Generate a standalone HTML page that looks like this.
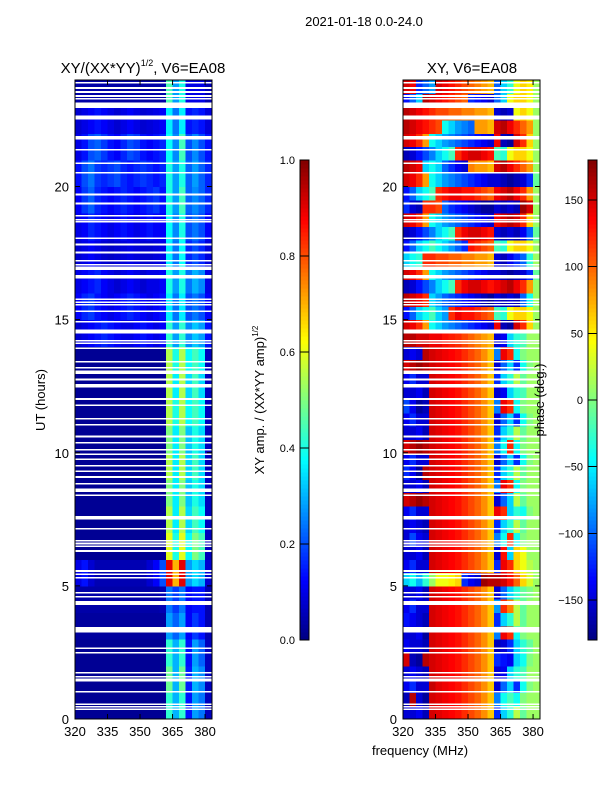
<!DOCTYPE html>
<html><head><meta charset="utf-8">
<style>
html,body{margin:0;padding:0;background:#fff;}
svg{display:block;font-family:"Liberation Sans","DejaVu Sans",sans-serif;}
</style></head>
<body>
<svg id="fig" width="600" height="800" xmlns="http://www.w3.org/2000/svg">
<text x="364" y="26" font-size="13" text-anchor="middle">2021-01-18 0.0-24.0</text>
<text x="143" y="73" font-size="15" text-anchor="middle">XY/(XX*YY)<tspan font-size="9" dy="-7">1/2</tspan><tspan dy="7">, V6=EA08</tspan></text>
<text x="472" y="73" font-size="15" text-anchor="middle">XY, V6=EA08</text>
<text transform="translate(45,400) rotate(-90)" font-size="13" text-anchor="middle">UT (hours)</text>
<text x="420" y="755" font-size="13" text-anchor="middle">frequency (MHz)</text>
<text transform="translate(264,400) rotate(-90)" font-size="13" text-anchor="middle">XY amp. / (XX*YY amp)<tspan font-size="8" dy="-6">1/2</tspan></text>
<g id="layer"></g>
<text transform="translate(544,400) rotate(-90)" font-size="13" text-anchor="middle">phase (deg.)</text>
</svg>
<script>
// ---- data ----
const freqEdges = [320,323,326,329,332,335,338,341,344,347,350,353,356,359,362,365,368,371,374,377,380,383.2];
const ampHours = [0,1,2,3,4,5,6,7,8,9,10,11,12,13,14,15,16,17,18,19,20,21,22,23];
const ampRows = [
[2,2,2,2,2,2,2,2,2,2,2,2,2,2,42,30,42,14,28,24,6],
[2,2,2,2,2,2,2,2,2,2,2,2,2,2,48,30,48,15,30,26,6],
[2,2,2,2,2,2,2,2,2,2,2,2,2,2,42,30,42,14,28,22,6],
[3,3,3,3,3,3,3,3,3,3,3,3,3,3,28,22,28,12,18,14,5],
[4,4,4,4,4,4,4,4,4,4,4,4,4,5,24,18,24,12,14,14,5],
[10,14,8,5,5,5,5,5,5,5,5,8,12,20,90,70,90,28,34,30,8],
[2,2,2,2,2,2,2,2,2,2,2,2,2,2,60,40,60,38,50,44,6],
[2,2,2,2,2,2,2,2,2,2,2,2,2,2,55,36,55,34,44,38,6],
[2,2,2,2,2,2,2,2,2,2,2,2,2,2,50,36,50,32,40,34,6],
[2,2,2,2,2,2,2,2,2,2,2,2,2,2,55,36,55,34,44,34,6],
[2,2,2,2,2,2,2,2,2,2,2,2,2,2,50,36,50,32,40,34,6],
[2,2,2,2,2,2,2,2,2,2,2,2,2,2,55,40,55,38,44,38,6],
[2,2,2,2,2,2,2,2,2,2,2,2,2,2,55,36,55,34,44,34,6],
[2,2,2,2,2,2,2,2,2,2,2,2,2,2,55,40,55,38,44,38,6],
[8,10,12,14,16,14,12,10,10,12,14,12,10,12,42,28,42,26,32,28,14],
[12,16,18,14,12,10,12,14,16,14,12,10,12,14,36,24,36,20,24,20,12],
[10,12,14,16,12,10,8,10,12,10,8,10,10,12,40,28,40,24,30,26,10],
[8,10,12,10,8,7,8,9,10,9,8,8,9,10,36,24,38,16,20,16,9],
[10,12,16,14,12,10,12,14,12,10,12,14,12,12,38,26,40,20,24,20,12],
[12,18,22,16,14,12,14,16,14,12,14,16,18,14,40,28,44,22,26,22,16],
[14,20,24,18,16,18,20,16,14,16,18,16,14,16,40,28,40,22,28,22,16],
[10,14,20,22,18,14,12,16,20,18,14,12,14,16,38,26,44,20,26,20,14],
[8,10,12,14,12,10,8,10,12,10,8,9,10,12,36,24,36,14,16,14,9],
[4,4,4,4,4,4,4,4,4,4,4,4,4,4,45,28,40,10,10,10,5]
];
const phaseHours = [0,0.5,1,1.5,2,2.5,3,3.5,4,4.5,5,5.5,6,6.5,7,7.5,8,8.5,9,9.5,10,10.5,11,11.5,12,12.5,13,13.5,14,14.5,15,15.5,16,16.5,17,17.5,18,18.5,19,19.5,20,20.5,21,21.5,22,22.5,23,23.5];
const phaseRows = [
[-150,-150,-140,-160,150,145,140,135,130,120,110,100,85,65,-120,-60,-30,20,-10,10,10],
[-160,160,-150,-170,150,145,140,135,130,120,110,100,85,65,-90,-40,-20,-40,0,10,10],
[-140,-120,-150,-150,155,145,140,135,130,120,110,100,85,65,-150,-100,-60,-120,-40,0,10],
[-150,-140,-150,-160,150,145,140,135,130,120,110,100,85,65,-150,-140,-60,-30,-20,10,10],
[150,-160,-170,160,150,145,140,135,130,120,110,100,85,65,-120,-130,-140,-60,-40,0,10],
[-140,-150,-150,-160,150,145,140,135,130,120,110,100,85,65,-160,-150,-120,-60,-30,-10,10],
[-150,-150,-140,-170,150,145,140,135,130,120,110,100,85,65,-90,140,120,-40,0,10,10],
[-130,-140,-150,-160,150,145,140,135,130,120,110,100,85,65,-120,-60,-30,20,-10,10,10],
[-140,-120,-150,-150,150,145,140,135,130,120,110,100,85,65,-80,120,90,20,-10,10,10],
[-150,-150,-140,-160,150,145,140,135,130,120,110,100,85,65,-150,-100,-60,-30,-10,0,10],
[-60,-40,-70,-30,10,40,40,50,60,-120,-140,-150,170,160,160,150,130,100,60,30,10],
[-140,-120,-150,-150,150,145,140,135,130,120,110,100,85,65,-120,140,120,60,40,20,10],
[-150,-150,-140,-160,150,145,140,135,130,120,110,100,85,65,-150,130,-60,60,40,10,10],
[-150,-110,-140,-150,150,145,140,135,130,120,110,100,85,65,-90,-40,120,-40,0,10,10],
[-150,-140,-150,-160,150,145,140,135,130,120,110,100,85,65,-120,-60,-30,20,-10,10,10],
[-140,-120,-150,-150,150,145,140,135,130,120,110,100,85,65,140,120,-60,-30,-40,0,10],
[150,160,170,160,150,145,140,135,130,120,110,100,85,65,-150,-100,-60,20,-10,10,10],
[-150,-150,-140,-160,150,145,140,135,130,120,110,100,85,65,-90,140,120,-40,0,10,10],
[-120,-140,-170,160,150,145,140,135,130,120,110,100,85,65,-120,-60,-30,20,-10,10,10],
[-140,-120,-150,-150,150,145,140,135,130,120,110,100,85,65,-150,-100,-60,-120,-40,0,10],
[150,160,170,160,150,145,140,135,130,120,110,100,85,65,-90,-40,120,-40,0,10,10],
[-150,-150,-140,-160,150,145,140,135,130,120,110,100,85,65,-120,-60,-30,20,-10,10,10],
[-140,-120,-150,-150,150,145,140,135,130,120,110,100,85,65,-150,-100,-60,-120,-40,0,10],
[-110,-140,-170,-160,150,145,140,135,130,120,110,100,85,65,-90,140,120,-40,0,10,10],
[-150,-150,-140,-160,150,145,140,135,130,120,110,100,85,65,-150,-140,-60,-30,-20,10,10],
[-140,-120,-150,-150,150,145,140,135,130,120,110,100,85,65,-120,-60,-30,20,-10,10,10],
[150,160,170,160,150,145,140,135,130,120,110,100,85,65,-150,-100,-60,-120,-40,0,10],
[-150,-140,-150,160,150,145,140,135,130,120,110,100,85,65,-90,140,120,-40,0,10,10],
[160,160,150,150,140,140,130,125,120,110,100,90,80,70,-150,-140,-60,-30,-20,10,10],
[150,140,120,80,-40,-60,-80,-90,-100,-110,-120,-130,-140,-150,140,-160,-170,150,120,60,10],
[-130,-100,-60,-40,-20,-60,-80,120,140,130,130,120,110,100,-20,-30,40,60,60,40,10],
[160,150,140,120,-60,-80,-100,-110,-120,-130,-140,-150,-160,-170,-150,-160,-150,-160,-100,-40,10],
[-160,-150,-130,-110,-90,-60,-40,-20,120,140,150,150,140,130,140,150,160,140,120,80,10],
[150,140,120,80,-40,-60,-80,-90,-100,-110,-120,-130,-140,-150,-150,-160,-170,-160,-150,-120,-10],
[-60,-40,-30,120,120,110,110,100,100,90,90,80,80,70,-150,-160,-140,-120,-100,-30,10],
[-130,-100,-60,-40,-20,-40,-60,-80,-100,-120,130,120,110,100,-20,-30,40,60,60,40,10],
[-160,-150,-130,-110,-90,-60,-40,-20,120,140,150,150,140,130,-150,-160,-150,-160,-140,-100,-10],
[150,140,120,80,-40,-60,-80,-90,-100,-110,-120,-130,-140,-150,140,150,160,150,120,60,10],
[-120,-150,-160,120,120,110,-100,-120,-130,-140,-150,-160,-170,-170,-150,-160,-150,-160,170,150,10],
[-130,-100,-60,-40,-20,120,130,140,140,130,130,120,110,100,140,150,160,140,120,80,10],
[150,140,120,80,-40,-60,-80,-90,-100,-110,-120,-130,-140,-150,-150,-160,-170,-160,-150,-120,-10],
[160,150,140,-60,-40,-60,-100,-120,-140,-150,90,80,80,70,150,160,140,120,100,80,10],
[-160,-150,-130,-110,-90,-60,-40,-20,120,140,150,150,140,130,-20,-30,40,60,60,40,10],
[150,140,120,80,-40,-60,-80,-90,-100,-110,-120,-130,-140,-150,140,-160,-170,150,120,60,10],
[160,150,140,130,120,110,-40,-60,-80,-90,-100,80,80,70,150,160,140,120,100,80,10],
[160,150,140,130,120,110,110,100,100,90,90,80,80,70,-150,-160,-150,40,60,40,10],
[-130,-100,-60,160,150,140,130,120,110,100,-120,-130,-140,-150,-100,-60,40,60,60,40,10],
[150,140,-120,-100,-80,150,140,130,120,110,100,90,80,70,-100,-60,-30,40,60,50,10]
];
const flagHours = [0.36,0.46,0.55,1.02,1.46,1.59,1.74,2.49,2.65,4.36,4.59,4.74,5.31,5.44,5.56,6.31,6.49,6.59,6.69,7.15,7.56,8.40,8.59,8.84,9.09,9.31,9.51,9.75,9.94,10.11,10.37,10.61,11.05,11.27,11.79,12.02,12.49,12.55,12.75,13.02,13.19,13.42,13.92,14.11,14.21,14.55,14.92,15.32,15.56,15.65,15.77,16.61,16.93,17.06,17.21,17.52,17.82,18.05,18.67,18.75,18.9,19.36,19.7,20.52,20.87,21.38,21.79,21.86,23.3,23.4,23.55,23.7,23.9];
const flagWidths = [0.06,0.06,0.06,0.06,0.12,0.06,0.06,0.06,0.06,0.14,0.06,0.06,0.06,0.06,0.06,0.06,0.06,0.06,0.06,0.06,0.14,0.06,0.14,0.06,0.06,0.06,0.06,0.06,0.06,0.06,0.06,0.06,0.06,0.06,0.06,0.06,0.06,0.06,0.06,0.12,0.06,0.06,0.06,0.06,0.06,0.14,0.06,0.06,0.06,0.06,0.06,0.12,0.12,0.06,0.06,0.06,0.06,0.06,0.06,0.06,0.06,0.06,0.06,0.06,0.06,0.06,0.06,0.06,0.06,0.06,0.06,0.06,0.06];
const flagBlocks = [[3.24,3.45],[22.94,23.15],[22.52,22.67]];
const xTicks = [320,335,350,365,380];
const yTicks = [0,5,10,15,20];
const ampTicks = [0.0,0.2,0.4,0.6,0.8,1.0];
const phaseTicks = [-150,-100,-50,0,50,100,150];

// ---- helpers ----
const NS='http://www.w3.org/2000/svg';
const layer=document.getElementById('layer');
function mk(tag,attrs,parent){const e=document.createElementNS(NS,tag);for(const k in attrs)e.setAttribute(k,attrs[k]);(parent||layer).appendChild(e);return e;}
function jet(v){v=Math.max(0,Math.min(1,v));
 const r=Math.max(0,Math.min(1,1.5-Math.abs(4*v-3)));
 const g=Math.max(0,Math.min(1,1.5-Math.abs(4*v-2)));
 const b=Math.max(0,Math.min(1,1.5-Math.abs(4*v-1)));
 return `rgb(${Math.round(r*255)},${Math.round(g*255)},${Math.round(b*255)})`;}
const Y0=719,Y1=80,HMAX=24;
const yScale=h=>Y0-(h/HMAX)*(Y0-Y1);
function xScaleFor(x0){return f=>x0+(f-320)*(137/63.2);}
const panels=[{x0:75,name:'amp'},{x0:403,name:'phase'}];

panels.forEach((p,pi)=>{
 const xs=xScaleFor(p.x0);
 const g=mk('g',{'shape-rendering':'crispEdges'});
 
 
 const hours = pi===0?ampHours:phaseHours;
 const rows = pi===0?ampRows:phaseRows;
 const dh = pi===0?1:0.5;
 rows.forEach((row,ri)=>{
  row.forEach((v,ci)=>{
   const x=xs(freqEdges[ci]),x2=xs(freqEdges[ci+1]);
   const yt=yScale(hours[ri]+dh),yb=yScale(hours[ri]);
   const col = pi===0?jet(v/100):jet((v+180)/360);
   const c=mk('rect',{x:x,y:yt,width:x2-x+0.5,height:yb-yt+0.5,fill:col},g);
   
   
  });
 });
 flagHours.forEach((h,i)=>{
  const r=mk('rect',{x:p.x0,y:yScale(h+flagWidths[i]/2),width:137,height:yScale(h-flagWidths[i]/2)-yScale(h+flagWidths[i]/2),fill:'#fff'},g);
  
  
 });
 flagBlocks.forEach(b=>{
  const r=mk('rect',{x:p.x0,y:yScale(b[1]),width:137,height:yScale(b[0])-yScale(b[1]),fill:'#fff'},g);
  
  
 });
 const fr=mk('rect',{x:p.x0,y:Y1,width:137,height:Y0-Y1,fill:'none',stroke:'#000','stroke-width':1});
 
 
 xTicks.forEach(t=>{
  const x=xs(t);
  mk('line',{x1:x,x2:x,y1:Y0,y2:Y0-5,stroke:'#000'});
  mk('line',{x1:x,x2:x,y1:Y1,y2:Y1+5,stroke:'#000'});
  const tx=mk('text',{x:x,y:Y0+17,'font-size':13,'text-anchor':'middle'});
  tx.textContent=t;
  
  
 });
 yTicks.forEach(t=>{
  const y=yScale(t);
  mk('line',{x1:p.x0,x2:p.x0+5,y1:y,y2:y,stroke:'#000'});
  mk('line',{x1:p.x0+137,x2:p.x0+132,y1:y,y2:y,stroke:'#000'});
  const tx=mk('text',{x:p.x0-6,y:y+5,'font-size':13,'text-anchor':'end'});
  tx.textContent=t;
  
  
 });
});

// colorbars
const cbs=[{x:300,ticks:ampTicks,lo:0,hi:1,name:'amp-colorbar',fmt:t=>t.toFixed(1)},
           {x:588,ticks:phaseTicks,lo:-180,hi:180,name:'phase-colorbar',fmt:t=>String(t).replace('-','\u2212')}];
cbs.forEach(cb=>{
 const g=mk('g',{'shape-rendering':'crispEdges'});
 
 
 const top=160,bot=640,n=120;
 for(let i=0;i<n;i++){
  const y=bot-(i+1)*(bot-top)/n;
  mk('rect',{x:cb.x,y:y,width:9,height:(bot-top)/n+0.5,fill:jet((i+0.5)/n)},g);
 }
 mk('rect',{x:cb.x,y:top,width:9,height:bot-top,fill:'none',stroke:'#000'},g);
 cb.ticks.forEach(t=>{
  const y=bot-(t-cb.lo)/(cb.hi-cb.lo)*(bot-top);
  mk('line',{x1:cb.x,x2:cb.x+9,y1:y,y2:y,stroke:'#000'},g);
  const tx=mk('text',{x:cb.x-5,y:y+4,'font-size':11,'text-anchor':'end'},g);
  tx.textContent=cb.fmt(t);
  
  
 });
});
</script>
</body></html>
